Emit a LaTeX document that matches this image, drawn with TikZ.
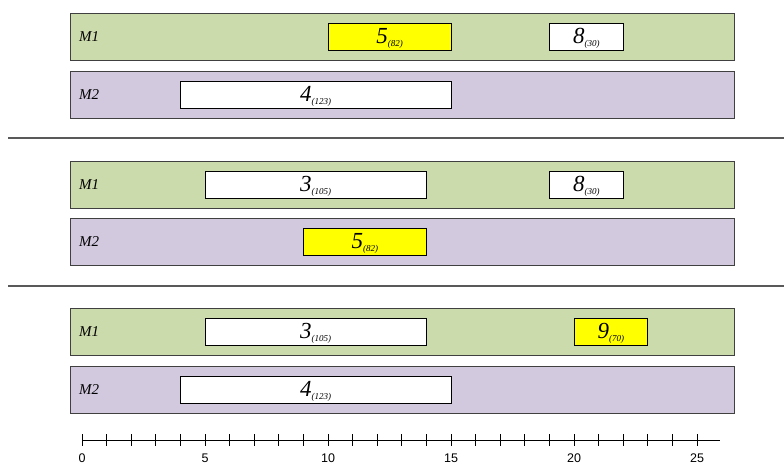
\documentclass[tikz,border=0pt]{standalone}
\usepackage{fontspec}
\setmainfont{Liberation Serif}
\newfontfamily\axisfont{Liberation Sans}
\definecolor{lanegreen}{RGB}{204,219,171}
\definecolor{lanepurple}{RGB}{210,201,223}
\definecolor{jobyellow}{RGB}{255,255,0}
% one time unit on the axis
\newcommand{\tu}{24.6}
% \jobtext{operation}{duration}
\newcommand{\jobtext}[2]{\fontsize{23}{23}\selectfont\textit{#1}\raisebox{-3pt}{\fontsize{9}{9}\selectfont\textit{(#2)}}}
\begin{document}
\begin{tikzpicture}[x=1pt,y=-1pt,
  lane/.style={draw=black!75, line width=0.9pt, anchor=north west, inner sep=0pt,
               minimum height=47pt, minimum width=664pt},
  green lane/.style={lane, fill=lanegreen},
  purple lane/.style={lane, fill=lanepurple},
  lanelabel/.style={anchor=west, inner sep=0pt, font=\fontsize{15}{15}\selectfont\itshape},
  jobbox/.style={draw=black, line width=0.8pt, fill=white, inner sep=0pt,
                 minimum height=27pt, text depth=2pt},
  hot/.style={fill=jobyellow},
  separator/.style={draw=black!65, line width=1.2pt},
  ticklabel/.style={font=\axisfont\fontsize{12.5}{12.5}\selectfont, inner sep=0pt}
]
\useasboundingbox (0,0) rectangle (784,466);

% ---- schedule A ----
\node[green lane]  (a1) at (70,13) {};
\node[purple lane] (a2) at (70,71) {};
\node[lanelabel] (a1l) at (79,37) {M1};
\node[lanelabel] (a2l) at (79,95) {M2};
\node[jobbox, hot, minimum width={5*\tu pt}] (a5) at ({82+12.5*\tu},36.5) {\jobtext{5}{82}};
\node[jobbox, minimum width={3*\tu pt}] (a8) at ({82+20.5*\tu},36.5) {\jobtext{8}{30}};
\node[jobbox, minimum width={11*\tu pt}] (a4) at ({82+9.5*\tu},94.5) {\jobtext{4}{123}};

\draw[separator] (8,138) -- (784,138);

% ---- schedule B ----
\node[green lane]  (b1) at (70,161) {};
\node[purple lane] (b2) at (70,218) {};
\node[lanelabel] (b1l) at (79,185) {M1};
\node[lanelabel] (b2l) at (79,242) {M2};
\node[jobbox, minimum width={9*\tu pt}] (b3) at ({82+9.5*\tu},184.5) {\jobtext{3}{105}};
\node[jobbox, minimum width={3*\tu pt}] (b8) at ({82+20.5*\tu},184.5) {\jobtext{8}{30}};
\node[jobbox, hot, minimum width={5*\tu pt}] (b5) at ({82+11.5*\tu},241.5) {\jobtext{5}{82}};

\draw[separator] (8,286) -- (784,286);

% ---- schedule C ----
\node[green lane]  (c1) at (70,308) {};
\node[purple lane] (c2) at (70,366) {};
\node[lanelabel] (c1l) at (79,332) {M1};
\node[lanelabel] (c2l) at (79,390) {M2};
\node[jobbox, minimum width={9*\tu pt}] (c3) at ({82+9.5*\tu},331.5) {\jobtext{3}{105}};
\node[jobbox, hot, minimum width={3*\tu pt}] (c9) at ({82+21.5*\tu},331.5) {\jobtext{9}{70}};
\node[jobbox, minimum width={11*\tu pt}] (c4) at ({82+9.5*\tu},389.5) {\jobtext{4}{123}};

% ---- time axis ----
\draw[line width=0.8pt] (82,440) -- (720,440);
\foreach \i in {0,...,25} {
  \draw[line width=0.8pt] ({82+\i*\tu},434) -- ({82+\i*\tu},446);
}
\foreach \i in {0,5,...,25} {
  \node[ticklabel] at ({82+\i*\tu},458) {\i};
}
\end{tikzpicture}
\end{document}
